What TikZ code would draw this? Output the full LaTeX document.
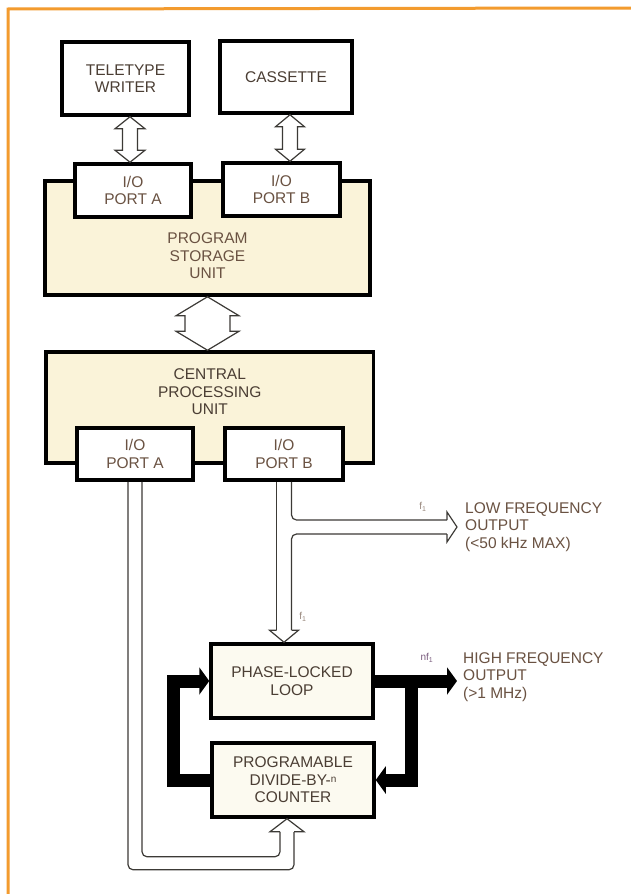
\documentclass[tikz,border=0pt]{standalone}
\usepackage{fontspec}
\setmainfont{Liberation Sans}
\usetikzlibrary{calc,arrows.meta}
\definecolor{ink}{HTML}{4B3E34}
\definecolor{umber}{HTML}{6A5242}
\definecolor{cream}{HTML}{FAF3D9}
\definecolor{pale}{HTML}{FCFAF0}
\definecolor{rim}{HTML}{F39B2E}
\definecolor{wire}{HTML}{3C3A36}
\definecolor{plum}{HTML}{7A5C7E}
\tikzset{
	txt/.style={align=center,text=ink,font=\fontsize{15.5}{17.5}\selectfont,inner sep=0pt},
	box/.style={txt,draw=black,line width=3.5pt,fill=white},
	port/.style={box,text=umber,minimum width=116pt,minimum height=53pt},
	pipe/.style={draw=wire,line width=1.2pt,fill=white},
	wall/.style={draw=wire,line width=1.2pt,rounded corners=5pt},
	fat/.style={line width=13pt,-{Triangle[width=27pt,length=10pt]}},
	outtext/.style={txt,align=left,text=umber,anchor=west},
	freq/.style={font=\fontsize{10}{12}\selectfont,text=umber!70,inner sep=0pt}
}
\newcommand{\twoway}[5]{%
	\draw[pipe] (#1) -- ++(#4,#5) -- ++(#3-#4,0) -- ($(#2)+(#3,-#5)$) -- ++(#4-#3,0) -- (#2) -- ++(-#4,-#5) -- ++(#4-#3,0) -- ($(#1)+(-#3,#5)$) -- ++(#3-#4,0) -- cycle;}
\begin{document}
\begin{tikzpicture}[x=1pt,y=-1pt]
	\fill[white] (0,0) rectangle (631,894);
	\useasboundingbox (0,0) rectangle (631,894);
	\draw[rim,line width=3pt] (8,894) -- (8,9) -- (631,8);

	\node[box,minimum width=127pt,minimum height=73pt] (tty) at (125.5,78.5) {TELETYPE\\WRITER};
	\node[box,minimum width=132pt,minimum height=72pt] (cas) at (286,77) {CASSETTE};
	\node[box,fill=cream,minimum width=325pt,minimum height=114pt] (psu) at (207.5,238) {};
	\node[txt,text=umber] (psutext) at (207.5,256) {PROGRAM\\STORAGE\\UNIT};
	\node[port] (pa1) at (133,190.5) {I/O\\PORT A};
	\node[port,minimum width=117pt] (pb1) at (281.5,189.5) {I/O\\PORT B};
	\node[box,fill=cream,minimum width=327.5pt,minimum height=111pt] (cpu) at (209.75,407.5) {};
	\node[txt] (cputext) at (209.75,392) {CENTRAL\\PROCESSING\\UNIT};
	\node[port,minimum height=52pt] (pa2) at (135,454) {I/O\\PORT A};
	\node[port,minimum width=118pt,minimum height=52pt] (pb2) at (284,454) {I/O\\PORT B};
	\node[box,fill=pale,minimum width=162pt,minimum height=74pt] (pll) at (292,681) {PHASE-LOCKED\\LOOP};
	\node[box,fill=pale,minimum width=162pt,minimum height=74pt] (div) at (293,780) {PROGRAMABLE\\DIVIDE-BY-\raisebox{3pt}{\fontsize{10}{12}\selectfont n}\\COUNTER};

	\node[outtext] (lfo) at (465,527) {LOW FREQUENCY\\OUTPUT\\(<50 kHz MAX)};
	\node[outtext] (hfo) at (463,677) {HIGH FREQUENCY\\OUTPUT\\(>1 MHz)};
	\node[freq] (f1a) at (423,507) {f\textsubscript{1}};
	\node[freq] (f1b) at (303,617) {f\textsubscript{1}};
	\node[freq,text=plum] (nf1) at (427,658) {nf\textsubscript{1}};

	\coordinate (t1) at ($(tty.south)+(4.5,0)$);
	\coordinate (t2) at (t1 |- pa1.north);
	\twoway{t1}{t2}{7.5}{15}{12}
	\coordinate (c1) at ($(cas.south)+(4,0)$);
	\coordinate (c2) at (c1 |- pb1.north);
	\twoway{c1}{c2}{7.5}{14.5}{12}
	\coordinate (m2) at (psu.south |- cpu.north);
	\twoway{psu.south}{m2}{22.5}{31.5}{19}

	\coordinate (pin) at (pll.north -| pb2.south);
	\coordinate (lft) at ($(lfo.west)+(-8,0)$);
	\draw[wall] ($(pb2.south)+(-7.5,0)$) -- ($(pin)+(-7.5,-12)$);
	\draw[wall] ($(pin)+(7.5,-12)$) |- ($(lft)+(-10,7)$);
	\draw[wall] ($(lft)+(-10,-7)$) -| ($(pb2.south)+(7.5,0)$);
	\draw[pipe] ($(pin)+(-7.5,-12)$) -- ++(-7,0) -- (pin) -- ++(14.5,-12) -- ++(-7,0);
	\draw[pipe] ($(lft)+(-10,7)$) -- ++(0,8) -- (lft) -- ++(-10,-15) -- ++(0,8);

	\coordinate (din) at ($(div.south)+(-6,0)$);
	\draw[wall] ($(pa2.south)+(-7,0)$) |- ($(din)+(7,51)$) -- ($(din)+(7,13)$);
	\draw[wall] ($(pa2.south)+(7,0)$) |- ($(din)+(-7,38)$) -- ($(din)+(-7,13)$);
	\draw[pipe] ($(din)+(-7,13)$) -- ++(-10,0) -- (din) -- ++(17,13) -- ++(-10,0);

	\coordinate (hft) at ($(hfo.west)+(-6,0)$);
	\draw[fat] (pll.east) -- (pll.east -| hft);
	\draw[fat] ($(pll.east)+(37,0)$) |- (div.east);
	\draw[fat] (div.west) -- ++(-37,0) |- (pll.west);
\end{tikzpicture}
\end{document}
